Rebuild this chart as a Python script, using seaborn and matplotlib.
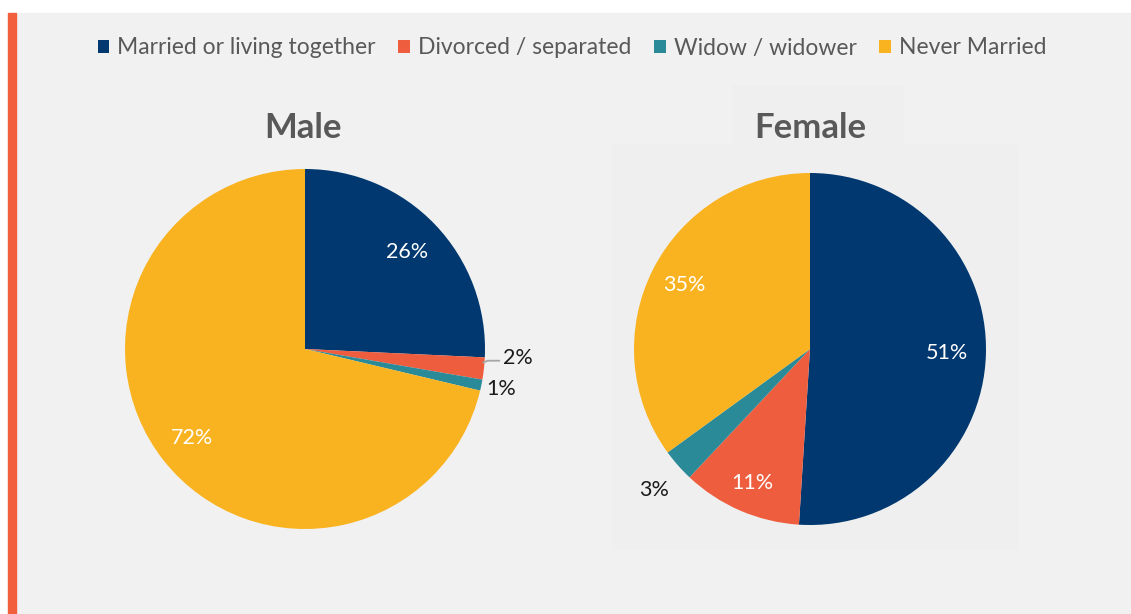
import matplotlib
matplotlib.use("Agg")
import numpy as np
import matplotlib.pyplot as plt
from matplotlib.patches import Rectangle, Patch
import seaborn as sns

# ---- data ---------------------------------------------------------
categories = ["Married or living together", "Divorced / separated",
              "Widow / widower", "Never Married"]
male_pct = [26, 2, 1, 72]
female_pct = [51, 11, 3, 35]
colors = ["#00386f", "#ee5d3d", "#2a8a98", "#f9b320"]

sns.set_theme(style="white")
plt.rcParams["font.family"] = ["Lato", "DejaVu Sans"]

W, H = 1131, 614
fig = plt.figure(figsize=(W / 100, H / 100), dpi=100, facecolor="white")

# background panel + accent bar (behind the axes)
fig.patches.append(Rectangle((16 / W, 0), 1 - 16 / W, (H - 13) / H,
                             transform=fig.transFigure, color="#f1f1f1", zorder=-3))
fig.patches.append(Rectangle((8 / W, 0), 8 / W, (H - 13) / H,
                             transform=fig.transFigure, color="#f15f3c", zorder=-3))
# faint panel behind the female chart
fig.patches.append(Rectangle((612 / W, (H - 549) / H), 405 / W, 404 / H,
                             transform=fig.transFigure, color="#efefef", zorder=-2))
fig.patches.append(Rectangle((733 / W, (H - 145) / H), 169 / W, 59 / H,
                             transform=fig.transFigure, color="#efefef", zorder=-2))


def pie_axes(cx, cy, r):
    return fig.add_axes([(cx - r) / W, (H - cy - r) / H, 2 * r / W, 2 * r / H])


def draw_pie(ax, vals, inside, outside):
    wedges, _ = ax.pie(vals, colors=colors, startangle=90, counterclock=False,
                       radius=1, wedgeprops=dict(linewidth=0))
    ax.set_xlim(-1, 1); ax.set_ylim(-1, 1)
    ax.axis("off")
    for i, w in enumerate(wedges):
        mid = np.deg2rad((w.theta1 + w.theta2) / 2)
        txt = f"{vals[i]}%"
        if i in inside:
            d = inside[i]
            ax.text(d * np.cos(mid), d * np.sin(mid), txt, ha="center", va="center",
                    color="white", fontsize=15.5)
        else:
            d, dx, dy = outside[i]
            ax.text(d * np.cos(mid) + dx, d * np.sin(mid) + dy, txt, ha="center",
                    va="center", color="#1a1a1a", fontsize=15.5)
    return wedges


ax_m = pie_axes(305, 349, 180)
draw_pie(ax_m, male_pct, {0: 0.78, 3: 0.8},
         {1: (1.19, 0.0, 0.08), 2: (1.11, 0.0, 0.0)})
# leader line for the 2% slice
ax_m.plot([0.99, 1.015, 1.08], [-0.075, -0.065, -0.065], color="#a6a6a6", lw=1.3,
          clip_on=False)

ax_f = pie_axes(810, 349, 176)
draw_pie(ax_f, female_pct, {0: 0.78, 1: 0.83, 3: 0.8},
         {2: (1.18, 0.0, -0.02)})

fig.text(303 / W, 1 - 128 / H, "Male", ha="center", va="center",
         fontsize=25, fontweight="bold", color="#595959")
fig.text(810 / W, 1 - 128 / H, "Female", ha="center", va="center",
         fontsize=25, fontweight="bold", color="#595959")

handles = [Patch(facecolor=c, edgecolor="none") for c in colors]
fig.legend(handles, categories, loc="center", bbox_to_anchor=(572 / W, 1 - 48 / H),
           ncol=4, frameon=False, fontsize=16.5, handlelength=0.5, handleheight=0.5,
           handletextpad=0.35, columnspacing=1.0, labelcolor="#595959")

fig.savefig("out.png", dpi=100, facecolor=fig.get_facecolor())
